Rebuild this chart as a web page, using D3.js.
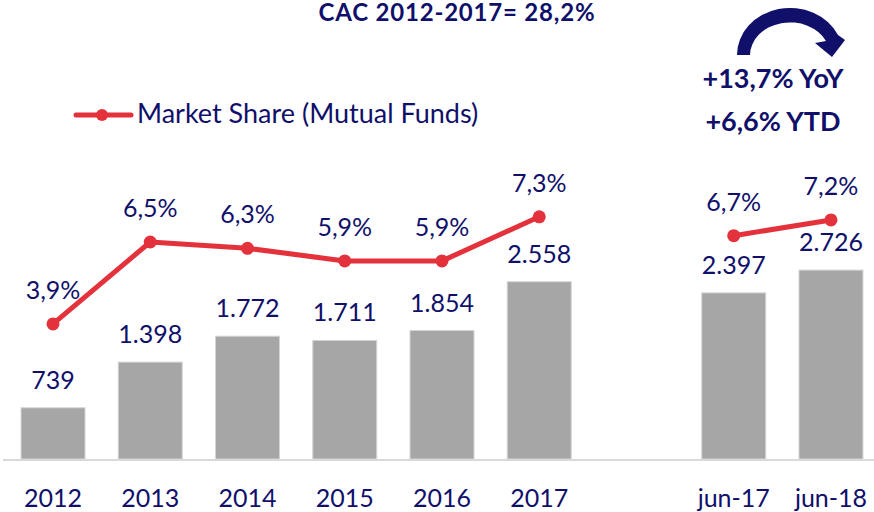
<!DOCTYPE html>
<html>
<head>
<meta charset="utf-8">
<script src="https://cdn.jsdelivr.net/npm/d3@7"></script>
<style>
  body { margin: 0; background: #fff; }
  svg { display: block; font-family: Lato, "Open Sans", sans-serif; }
</style>
</head>
<body>
<main></main>
<script>
// Data
const categories = ['2012', '2013', '2014', '2015', '2016', '2017', 'jun-17', 'jun-18']
const volume = [739, 1398, 1772, 1711, 1854, 2558, 2397, 2726]
const share = [3.9, 6.5, 6.3, 5.9, 5.9, 7.3, 6.7, 7.2]
const volumeLabels = ['739', '1.398', '1.772', '1.711', '1.854', '2.558', '2.397', '2.726']
const shareLabels = ['3,9%', '6,5%', '6,3%', '5,9%', '5,9%', '7,3%', '6,7%', '7,2%']
const title = 'CAC 2012-2017= 28,2%'
const growth = ['+13,7% YoY', '+6,6% YTD']
const legendLabel = 'Market Share (Mutual Funds)'

function GeneratePlot() {
    const width = 874
    const height = 512
    const navy = '#10106a'
    const red = '#e3323b'
    const grey = '#a6a6a6'
    const baseline = 459

    // an empty slot sits between the annual bars and the half-year bars
    const rows = categories.map((c, i) => ({
        cat: c, volume: volume[i], share: share[i],
        vLabel: volumeLabels[i], sLabel: shareLabels[i]
    }))
    const slots = [...rows.slice(0, 6), {cat: 'gap', share: null}, ...rows.slice(6)]

    const x = d3.scaleBand()
        .domain(slots.map(d => d.cat))
        .range([4.4, 879.6])
        .paddingInner(0.342)
        .paddingOuter(0.171)

    const y = d3.scaleLinear()
        .domain([0, 3000])
        .range([baseline, baseline - 3000 * 0.0693])

    const y2 = d3.scaleLinear()
        .domain([0, 10])
        .range([446.75, 446.75 - 315])

    const svg = d3.select('main')
        .append('svg')
        .attr('width', width)
        .attr('height', height)

    // Bars
    svg.append('g')
        .selectAll('rect')
        .data(rows)
        .join('rect')
        .attr('x', d => x(d.cat))
        .attr('y', d => y(d.volume))
        .attr('width', x.bandwidth())
        .attr('height', d => y(0) - y(d.volume))
        .attr('fill', grey)
        .attr('stroke', '#d4d4d4')
        .attr('stroke-width', 1)

    // Category axis line
    svg.append('line')
        .attr('x1', 3)
        .attr('x2', width)
        .attr('y1', baseline + 1)
        .attr('y2', baseline + 1)
        .attr('stroke', '#d9d9d9')
        .attr('stroke-width', 2)

    // Bar labels
    svg.append('g')
        .selectAll('text')
        .data(rows)
        .join('text')
        .attr('x', d => x(d.cat) + x.bandwidth() / 2)
        .attr('y', d => y(d.volume) - 19)
        .attr('text-anchor', 'middle')
        .attr('font-size', 25)
        .attr('fill', navy)
        .text(d => d.vLabel)

    // Category labels
    svg.append('g')
        .selectAll('text')
        .data(rows)
        .join('text')
        .attr('x', d => x(d.cat) + x.bandwidth() / 2)
        .attr('y', 507)
        .attr('text-anchor', 'middle')
        .attr('font-size', 25)
        .attr('fill', navy)
        .text(d => d.cat)

    // Market share line
    const line = d3.line()
        .defined(d => d.share != null)
        .x(d => x(d.cat) + x.bandwidth() / 2)
        .y(d => y2(d.share))

    svg.append('path')
        .datum(slots)
        .attr('d', line)
        .attr('fill', 'none')
        .attr('stroke', red)
        .attr('stroke-width', 5)
        .attr('stroke-linejoin', 'round')

    svg.append('g')
        .selectAll('circle')
        .data(rows)
        .join('circle')
        .attr('cx', d => x(d.cat) + x.bandwidth() / 2)
        .attr('cy', d => y2(d.share))
        .attr('r', 6.5)
        .attr('fill', red)

    svg.append('g')
        .selectAll('text')
        .data(rows)
        .join('text')
        .attr('x', d => x(d.cat) + x.bandwidth() / 2)
        .attr('y', d => y2(d.share) - 25)
        .attr('text-anchor', 'middle')
        .attr('font-size', 25)
        .attr('fill', navy)
        .text(d => d.sLabel)

    // Legend
    const legend = svg.append('g')
    legend.append('line')
        .attr('x1', 76).attr('x2', 131)
        .attr('y1', 115).attr('y2', 115)
        .attr('stroke', red)
        .attr('stroke-width', 5)
        .attr('stroke-linecap', 'round')
    legend.append('circle')
        .attr('cx', 102).attr('cy', 115)
        .attr('r', 6)
        .attr('fill', red)
    legend.append('text')
        .attr('x', 137).attr('y', 123)
        .attr('font-size', 27)
        .attr('fill', navy)
        .text(legendLabel)

    // Title
    svg.append('text')
        .attr('x', 457).attr('y', 21)
        .attr('text-anchor', 'middle')
        .attr('font-size', 24)
        .attr('letter-spacing', 0.8)
        .attr('font-weight', 'bold')
        .attr('fill', navy)
        .text(title)

    // Growth annotation with curved arrow
    svg.append('path')
        .attr('d', 'M737,55 A53,47 0 0 1 838,35 L845,40 L832,57 L815,43 L826,41 A40,33 0 0 0 750,55 Z')
        .attr('fill', navy)

    svg.append('g')
        .selectAll('text')
        .data(growth)
        .join('text')
        .attr('x', 773)
        .attr('y', (d, i) => 88 + i * 43)
        .attr('text-anchor', 'middle')
        .attr('font-size', 27)
        .attr('font-weight', 'bold')
        .attr('fill', navy)
        .text(d => d)
}

GeneratePlot()
</script>
</body>
</html>
